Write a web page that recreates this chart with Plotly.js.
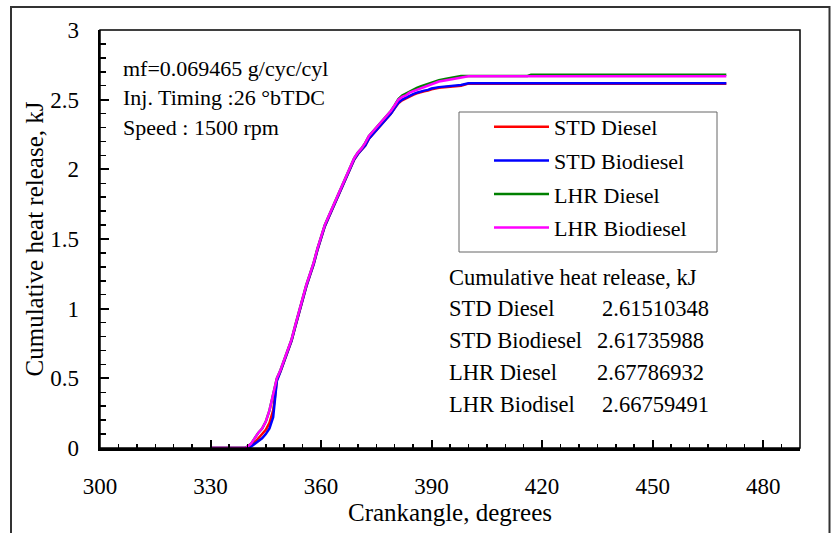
<!DOCTYPE html>
<html>
<head>
<meta charset="utf-8">
<script src="https://cdn.plot.ly/plotly-3.0.1.min.js"></script>
<style>html,body{margin:0;padding:0;background:#fff;}#chart{width:831px;height:533px;}</style>
</head>
<body>
<div id="chart"></div>
<script>
// Crank angle (degrees)
const crankAngle = [330, 339.5, 341, 342, 343, 344, 345, 346, 347, 347.5,
  348, 349, 350, 351, 352, 353, 354, 355, 356, 357,
  358, 359, 360, 361, 362, 363, 364, 365, 366, 367,
  368, 369, 370, 371, 372, 373, 374, 375, 376, 377,
  378, 379, 380, 381, 382, 383, 384, 385, 386, 387,
  388, 389, 390, 392, 394, 396, 398, 400, 416, 417, 470];

// Cumulative heat release (kJ)
const stdDiesel = [0, 0, 0.02, 0.04, 0.07, 0.10, 0.13, 0.18, 0.27, 0.37,
  0.49, 0.55, 0.62, 0.69, 0.77, 0.87, 0.97, 1.08, 1.16, 1.24,
  1.32, 1.42, 1.51, 1.59, 1.65, 1.71, 1.76, 1.82, 1.88, 1.95,
  2.01, 2.07, 2.11, 2.14, 2.17, 2.22, 2.25, 2.28, 2.31, 2.34,
  2.37, 2.40, 2.44, 2.475, 2.495, 2.51, 2.52, 2.535, 2.545, 2.555,
  2.56, 2.565, 2.575, 2.585, 2.59, 2.595, 2.60, 2.615, 2.615, 2.615, 2.615];

const stdBiodiesel = [0, 0, 0.01, 0.03, 0.05, 0.07, 0.10, 0.14, 0.22, 0.33,
  0.48, 0.55, 0.62, 0.69, 0.77, 0.87, 0.97, 1.08, 1.16, 1.24,
  1.32, 1.42, 1.51, 1.59, 1.65, 1.71, 1.76, 1.82, 1.88, 1.95,
  2.01, 2.07, 2.11, 2.14, 2.17, 2.22, 2.25, 2.28, 2.31, 2.34,
  2.37, 2.40, 2.44, 2.48, 2.50, 2.515, 2.53, 2.54, 2.55, 2.56,
  2.565, 2.57, 2.58, 2.59, 2.595, 2.60, 2.605, 2.617, 2.617, 2.617, 2.617];

const lhrDiesel = [0, 0, 0.03, 0.07, 0.11, 0.14, 0.19, 0.27, 0.38, 0.45,
  0.50, 0.56, 0.63, 0.70, 0.78, 0.88, 0.98, 1.09, 1.17, 1.25,
  1.33, 1.43, 1.52, 1.60, 1.66, 1.72, 1.77, 1.83, 1.89, 1.96,
  2.02, 2.08, 2.12, 2.15, 2.19, 2.24, 2.27, 2.30, 2.33, 2.36,
  2.39, 2.42, 2.46, 2.505, 2.53, 2.545, 2.56, 2.575, 2.585, 2.595,
  2.605, 2.615, 2.625, 2.64, 2.65, 2.66, 2.67, 2.67, 2.67, 2.678, 2.678];

const lhrBiodiesel = [0, 0, 0.03, 0.07, 0.11, 0.14, 0.19, 0.27, 0.38, 0.45,
  0.50, 0.56, 0.63, 0.70, 0.78, 0.88, 0.98, 1.09, 1.17, 1.25,
  1.33, 1.43, 1.52, 1.60, 1.66, 1.72, 1.77, 1.83, 1.89, 1.96,
  2.02, 2.08, 2.12, 2.15, 2.19, 2.24, 2.27, 2.30, 2.33, 2.36,
  2.39, 2.42, 2.46, 2.50, 2.52, 2.53, 2.55, 2.56, 2.57, 2.58,
  2.59, 2.60, 2.615, 2.63, 2.64, 2.65, 2.66, 2.668, 2.668, 2.668, 2.668];

const seriesNames = ['STD Diesel', 'STD Biodiesel', 'LHR Diesel', 'LHR Biodiesel'];
const seriesColors = ['#ff0000', '#0000ff', '#008000', '#ff00ff'];
const seriesData = [stdDiesel, stdBiodiesel, lhrDiesel, lhrBiodiesel];

const tableTitle = 'Cumulative heat release, kJ';
const tableLabels = ['STD Diesel', 'STD Biodiesel', 'LHR Diesel', 'LHR Biodisel'];
const tableValues = ['2.61510348', '2.61735988', '2.67786932', '2.66759491'];
const infoLines = ['mf=0.069465 g/cyc/cyl', 'Inj. Timing :26 °bTDC', 'Speed : 1500 rpm'];

const X_RANGE = [300, 490];
const Y_RANGE = [0, 3];

const FONT = 'Liberation Serif, Times New Roman, serif';

const traces = seriesNames.map((n, i) => ({
  x: crankAngle, y: seriesData[i], name: n, type: 'scatter', mode: 'lines',
  legendgroup: 'g' + i,
  line: {color: seriesColors[i], width: 2.5, shape: 'linear'}
}));
// empty helper trace so the tick-only overlay axes are drawn
traces.push({x: [], y: [], xaxis: 'x2', yaxis: 'y2', type: 'scatter', mode: 'lines',
  showlegend: false, hoverinfo: 'skip'});

// pixel -> paper helpers (plot area: x 100..800, y 30..448)
const px = v => (v - 100) / 700;
const py = v => (448 - v) / 418;

const annotations = [];
const infoY = [68, 98, 127];
infoLines.forEach((t, i) => annotations.push({
  text: t, xref: 'paper', yref: 'paper', x: px(121), y: py(infoY[i]),
  xanchor: 'left', yanchor: 'middle', showarrow: false,
  font: {family: FONT, size: 22, color: '#000'}
}));
annotations.push({
  text: tableTitle, xref: 'paper', yref: 'paper', x: px(447), y: py(277),
  xanchor: 'left', yanchor: 'middle', showarrow: false,
  font: {family: FONT, size: 22.5, color: '#000'}
});
const rowY = [308, 340, 372, 404];
const valX = [600, 595, 595, 600];
tableLabels.forEach((t, i) => {
  annotations.push({
    text: t, xref: 'paper', yref: 'paper', x: px(447), y: py(rowY[i]),
    xanchor: 'left', yanchor: 'middle', showarrow: false,
    font: {family: FONT, size: 22.5, color: '#000'}
  });
  annotations.push({
    text: tableValues[i], xref: 'paper', yref: 'paper', x: px(valX[i]), y: py(rowY[i]),
    xanchor: 'left', yanchor: 'middle', showarrow: false,
    font: {family: FONT, size: 22.5, color: '#000'}
  });
});

const layout = {
  width: 831, height: 533,
  margin: {l: 100, r: 31, t: 30, b: 85, pad: 0},
  paper_bgcolor: '#fff', plot_bgcolor: '#fff',
  font: {family: FONT, color: '#000'},
  showlegend: true,
  legend: {
    x: px(489), y: py(106), xanchor: 'left', yanchor: 'top',
    bgcolor: 'rgba(0,0,0,0)', borderwidth: 0,
    font: {family: FONT, size: 22, color: '#000'},
    tracegroupgap: 2, itemwidth: 55
  },
  // label axes (transparent outside ticks only set the label distance)
  xaxis: {
    range: X_RANGE, tick0: 300, dtick: 30, ticks: 'outside', ticklen: 16,
    tickcolor: 'rgba(0,0,0,0)', showline: true, linecolor: '#000', linewidth: 2.5, mirror: false,
    showgrid: false, zeroline: false,
    tickfont: {family: FONT, size: 23, color: '#000'},
    title: {text: 'Crankangle, degrees', font: {family: FONT, size: 25, color: '#000'}, standoff: 0}
  },
  yaxis: {
    range: Y_RANGE, tick0: 0, dtick: 0.5, ticks: 'outside', ticklen: 14,
    tickcolor: 'rgba(0,0,0,0)', showline: true, linecolor: '#000', linewidth: 2.5, mirror: false,
    showgrid: false, zeroline: false,
    tickfont: {family: FONT, size: 23, color: '#000'},
    title: {text: 'Cumulative heat release, kJ', font: {family: FONT, size: 25, color: '#000'}, standoff: 0}
  },
  // tick-only overlay axes (inside major + minor ticks)
  xaxis2: {
    overlaying: 'x', anchor: 'y2', side: 'bottom', range: X_RANGE, tick0: 300, dtick: 30,
    ticks: 'inside', ticklen: 8, tickwidth: 2, tickcolor: '#000', showticklabels: false,
    showline: false, showgrid: false, zeroline: false,
    minor: {dtick: 5, ticks: 'inside', ticklen: 4.5, tickwidth: 1.5, tickcolor: '#000', showgrid: false}
  },
  yaxis2: {
    overlaying: 'y', anchor: 'x2', side: 'left', range: Y_RANGE, tick0: 0, dtick: 0.5,
    ticks: 'inside', ticklen: 9, tickwidth: 2, tickcolor: '#000', showticklabels: false,
    showline: false, showgrid: false, zeroline: false,
    minor: {dtick: 0.1, ticks: 'inside', ticklen: 5.5, tickwidth: 1.5, tickcolor: '#000', showgrid: false}
  },
  shapes: [
    {type: 'rect', xref: 'paper', yref: 'paper', x0: 0, x1: 1, y0: 0, y1: 1,
     line: {color: '#000', width: 1.5}},
    {type: 'rect', xref: 'paper', yref: 'paper', x0: px(459), x1: px(717), y0: py(252), y1: py(112),
     line: {color: '#666', width: 1}},
    {type: 'rect', xref: 'paper', yref: 'paper', x0: px(11), x1: px(829.5), y0: py(545), y1: py(7),
     line: {color: '#333', width: 2}}
  ],
  annotations: annotations
};

Plotly.newPlot('chart', traces, layout, {staticPlot: true, displayModeBar: false});
</script>
</body>
</html>
